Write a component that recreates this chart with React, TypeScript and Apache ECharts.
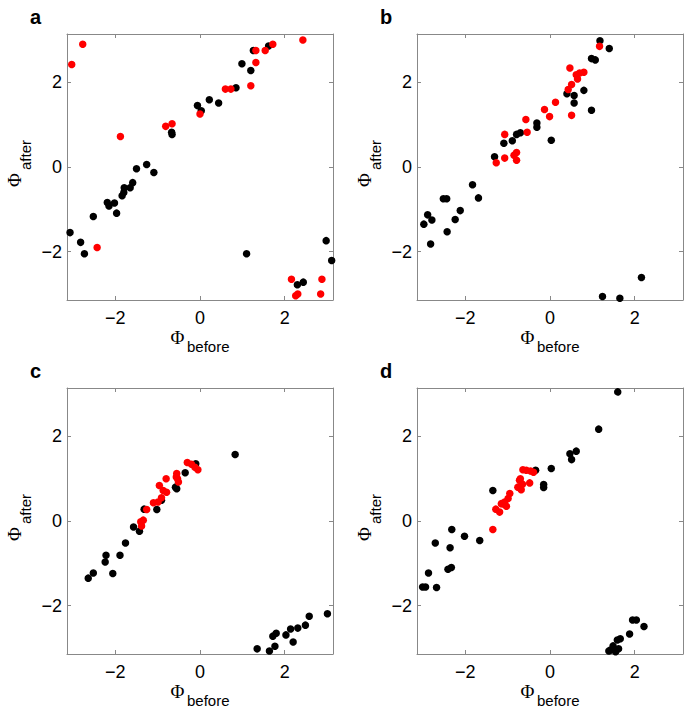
import React, { useEffect, useRef } from "react";
import * as echarts from "echarts";

const TICKS = [-2, 0, 2];
const PANEL_LETTERS = ["a", "b", "c", "d"];
const X_SUB = "before";
const Y_SUB = "after";
const PHI = "\u03A6";

const aBlack: number[][] = [
  [-3.07, -1.55], [-2.82, -1.78], [-2.73, -2.05], [-2.52, -1.17], [-2.19, -0.84], [-2.15, -0.92],
  [-2.02, -0.85], [-1.97, -1.09], [-1.84, -0.68], [-1.8, -0.6], [-1.79, -0.49], [-1.65, -0.49],
  [-1.59, -0.37], [-1.5, -0.04], [-1.26, 0.06], [-1.09, -0.13], [-0.67, 0.82], [-0.66, 0.77],
  [-0.06, 1.45], [0.03, 1.33], [0.22, 1.59], [0.44, 1.51], [0.85, 1.87], [0.99, 2.44],
  [1.2, 2.28], [1.26, 2.75], [1.62, 2.86], [1.1, -2.05], [2.3, -2.78], [2.44, -2.72],
  [2.98, -1.74], [3.11, -2.21],
];
const aRed: number[][] = [
  [-3.03, 2.42], [-2.77, 2.9], [-1.88, 0.72], [-2.43, -1.9], [-0.81, 0.96], [-0.66, 1.02],
  [0.0, 1.25], [0.6, 1.84], [0.73, 1.84], [1.2, 1.92], [1.32, 2.75], [1.32, 2.47],
  [1.54, 2.75], [1.72, 2.9], [2.43, 3.0], [2.16, -2.65], [2.26, -3.04], [2.31, -3.0],
  [2.88, -2.65], [2.85, -3.0],
];
const bBlack: number[][] = [
  [-2.98, -1.35], [-2.89, -1.13], [-2.79, -1.25], [-2.82, -1.82], [-2.52, -0.75], [-2.44, -0.75],
  [-2.43, -1.53], [-2.24, -1.24], [-2.12, -1.03], [-1.83, -0.42], [-1.69, -0.73], [-1.31, 0.24],
  [-1.09, 0.56], [-0.89, 0.62], [-0.79, 0.77], [-0.7, 0.81], [-0.31, 1.04], [-0.31, 0.94],
  [0.03, 0.63], [0.4, 1.73], [0.57, 1.69], [0.57, 1.51], [0.8, 1.81], [0.98, 1.34],
  [0.98, 2.56], [1.07, 2.53], [1.18, 2.98], [1.4, 2.8], [1.24, -3.06], [1.65, -3.1],
  [2.16, -2.61],
];
const bRed: number[][] = [
  [-1.27, 0.1], [-1.07, 0.21], [-1.07, 0.77], [-0.85, 0.28], [-0.79, 0.34], [-0.79, 0.16],
  [-0.57, 1.12], [-0.54, 0.82], [-0.13, 1.36], [-0.01, 1.19], [0.13, 1.53], [0.47, 2.34],
  [0.43, 1.83], [0.51, 1.95], [0.62, 2.18], [0.65, 2.08], [0.7, 2.22], [0.8, 2.24],
  [0.51, 1.22], [1.17, 2.85],
];
const cBlack: number[][] = [
  [-2.64, -1.35], [-2.52, -1.23], [-2.24, -0.97], [-2.22, -0.81], [-2.06, -1.24], [-1.89, -0.81],
  [-1.76, -0.52], [-1.57, -0.14], [-1.43, -0.24], [-1.32, 0.28], [-1.02, 0.27], [-0.91, 0.49],
  [-0.58, 0.8], [-0.55, 0.76], [-0.35, 1.14], [-0.1, 1.35], [0.83, 1.57], [1.35, -3.02],
  [1.64, -3.07], [1.72, -2.72], [1.8, -2.65], [1.77, -2.96], [2.03, -2.69], [2.14, -2.55],
  [2.2, -2.86], [2.31, -2.53], [2.49, -2.46], [2.58, -2.25], [3.01, -2.19],
];
const cRed: number[][] = [
  [-1.4, -0.02], [-1.34, 0.02], [-1.38, -0.12], [-1.26, 0.27], [-1.1, 0.43], [-0.99, 0.45],
  [-0.91, 0.55], [-0.96, 0.84], [-0.87, 0.72], [-0.79, 0.68], [-0.8, 1.0], [-0.55, 1.12],
  [-0.53, 1.0], [-0.51, 0.92], [-0.56, 1.04], [-0.3, 1.38], [-0.2, 1.34], [-0.12, 1.27],
  [-0.05, 1.21],
];
const dBlack: number[][] = [
  [-3.01, -1.56], [-2.94, -1.56], [-2.87, -1.23], [-2.68, -1.57], [-2.71, -0.52], [-2.41, -1.14],
  [-2.33, -1.1], [-2.36, -0.63], [-2.32, -0.2], [-2.02, -0.36], [-1.66, -0.46], [-1.35, 0.72],
  [-0.34, 1.2], [-0.15, 0.86], [-0.15, 0.79], [0.03, 1.24], [0.47, 1.59], [0.51, 1.45],
  [0.62, 1.65], [1.15, 2.17], [1.6, 3.05], [1.39, -3.07], [1.43, -3.05], [1.49, -2.95],
  [1.55, -3.09], [1.62, -3.02], [1.59, -2.81], [1.66, -2.78], [1.88, -2.67], [1.95, -2.34],
  [2.04, -2.34], [2.22, -2.49],
];
const dRed: number[][] = [
  [-1.35, -0.2], [-1.28, 0.28], [-1.19, 0.21], [-1.15, 0.41], [-1.07, 0.45], [-1.03, 0.35],
  [-0.99, 0.53], [-0.95, 0.65], [-0.76, 0.8], [-0.72, 0.96], [-0.68, 0.74], [-0.65, 0.87],
  [-0.48, 0.9], [-0.64, 1.21], [-0.56, 1.2], [-0.46, 1.18], [-0.39, 1.15], [-1.1, 0.4],
  [-0.7, 1.0],
];

const BLACK_SETS = [aBlack, bBlack, cBlack, dBlack];
const RED_SETS = [aRed, bRed, cRed, dRed];

const GRID_POS = [
  { left: 67, top: 34 },
  { left: 417, top: 34 },
  { left: 67, top: 388 },
  { left: 417, top: 388 },
];
const SIZE = 266;
const BOX = "#888888";
const SANS = "'Liberation Sans', Arial, Helvetica, sans-serif";
const SERIF = "'Liberation Serif', 'Times New Roman', serif";

function fmt(v: number) {
  return v < 0 ? "\u2212" + Math.abs(v) : String(v);
}

function makeAxis(i: number, position: string, showLabel: boolean) {
  return {
    type: "value",
    gridIndex: i,
    position,
    min: -Math.PI,
    max: Math.PI,
    axisLine: { show: true, onZero: false, lineStyle: { color: BOX, width: 1 } },
    axisTick: { show: true, inside: true, length: 4, customValues: TICKS, lineStyle: { color: BOX, width: 1 } },
    axisLabel: {
      show: showLabel,
      customValues: TICKS,
      margin: position === "bottom" ? 9 : 5,
      fontSize: 18,
      color: "#000",
      fontFamily: SANS,
      formatter: (v: number) => fmt(v),
    },
    splitLine: { show: false },
  };
}

function text(x: number, y: number, str: string, font: string, size: number, align: string, vAlign: string, rotation = 0, weight = "normal") {
  return {
    type: "text",
    x,
    y,
    rotation,
    silent: true,
    style: {
      text: str,
      fontSize: size,
      fontFamily: font,
      fontWeight: weight,
      fill: "#000",
      align,
      verticalAlign: vAlign,
      textAlign: align,
      textVerticalAlign: vAlign,
    },
  };
}

export default function App() {
  const ref = useRef<HTMLDivElement>(null);
  useEffect(() => {
    if (!ref.current) return;
    const chart = echarts.init(ref.current, null, { renderer: "svg" });
    const grid: any[] = [];
    const xAxis: any[] = [];
    const yAxis: any[] = [];
    const series: any[] = [];
    const graphic: any[] = [];
    GRID_POS.forEach((g, i) => {
      grid.push({ left: g.left, top: g.top, width: SIZE, height: SIZE, containLabel: false });
      xAxis.push(makeAxis(i, "bottom", true));
      xAxis.push(makeAxis(i, "top", false));
      yAxis.push(makeAxis(i, "left", true));
      yAxis.push(makeAxis(i, "right", false));
      series.push({
        type: "scatter",
        xAxisIndex: i * 2,
        yAxisIndex: i * 2,
        data: BLACK_SETS[i],
        symbolSize: 7.5,
        itemStyle: { color: "#000000", opacity: 1 },
      });
      series.push({
        type: "scatter",
        xAxisIndex: i * 2,
        yAxisIndex: i * 2,
        data: RED_SETS[i],
        symbolSize: 7.5,
        itemStyle: { color: "#ff0000", opacity: 1 },
      });
      graphic.push(text(g.left - 37, g.top - 17, PANEL_LETTERS[i], SANS, 20, "left", "middle", 0, "bold"));
      graphic.push(text(g.left + 110.5, g.top + SIZE + 37, PHI, SERIF, 19, "center", "middle"));
      graphic.push(text(g.left + 120, g.top + SIZE + 46, X_SUB, SANS, 15, "left", "middle"));
      graphic.push(text(g.left - 53, g.top + 146, PHI, SERIF, 19, "center", "middle", Math.PI / 2));
      graphic.push(text(g.left - 42, g.top + 121, Y_SUB, SANS, 15, "center", "middle", Math.PI / 2));
    });
    chart.setOption({
      animation: false,
      backgroundColor: "#ffffff",
      grid,
      xAxis,
      yAxis,
      series,
      graphic,
    });
    return () => chart.dispose();
  }, []);
  return (
    <div
      ref={ref}
      style={{ position: "absolute", left: 0, top: 0, width: 686, height: 713, background: "#fff" }}
    />
  );
}
